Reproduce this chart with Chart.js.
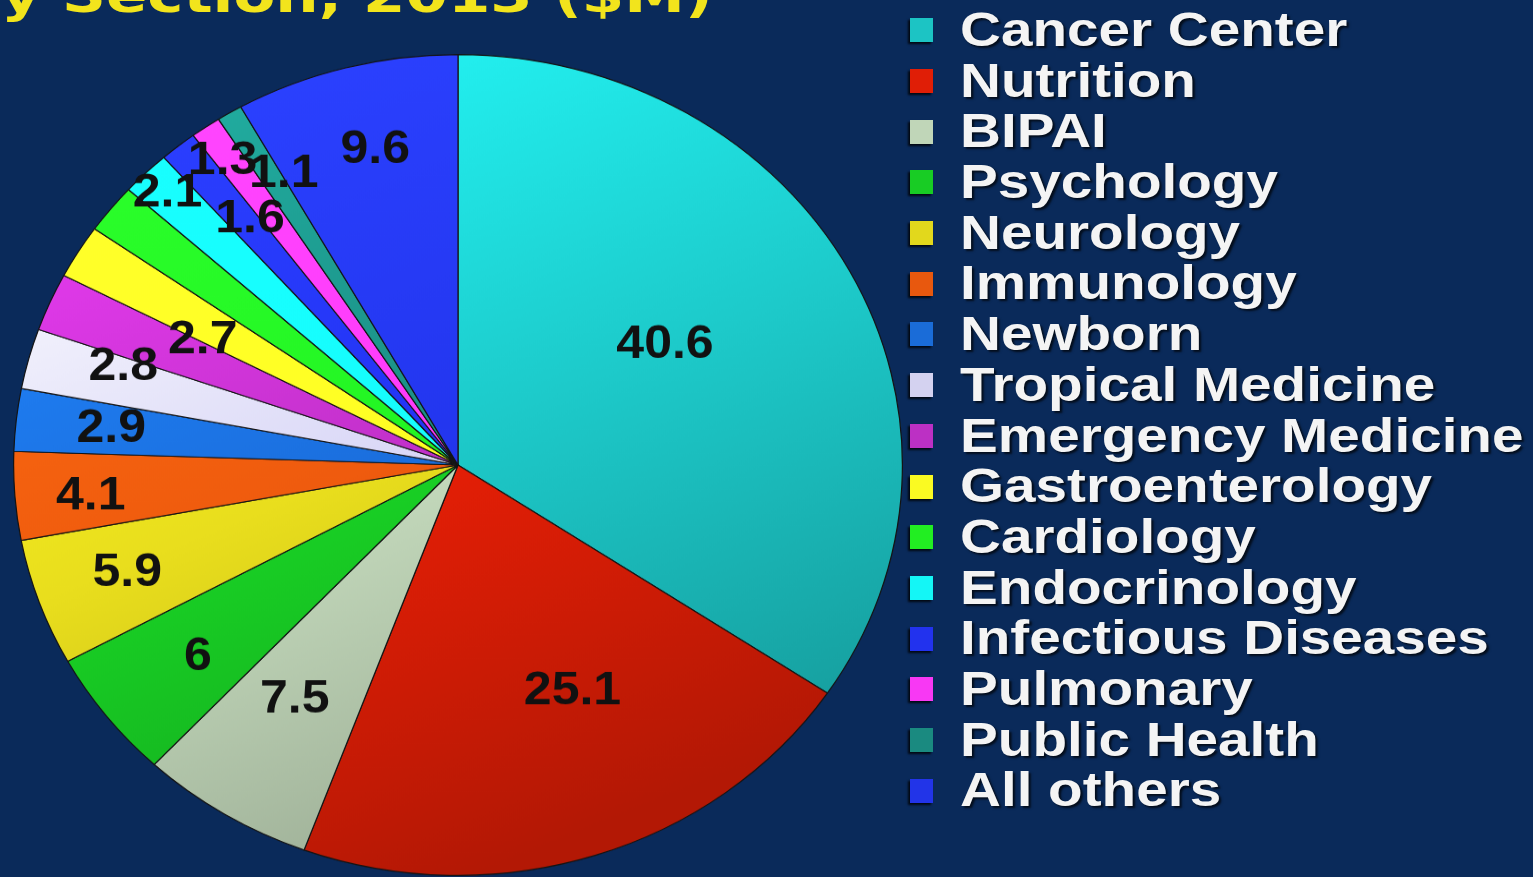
<!DOCTYPE html>
<html>
<head>
    <meta charset="utf-8">
    <script src="https://cdn.jsdelivr.net/npm/chart.js@4.4.0/dist/chart.umd.min.js"></script>
    <style>
        html, body {
            margin: 0;
            padding: 0;
            width: 1533px;
            height: 877px;
            overflow: hidden;
            background: #0a2a5a;
        }

        #title {
            position: absolute;
            right: 820px;
            top: -29px;
            font: bold 48px "DejaVu Sans", sans-serif;
            line-height: 48px;
            color: #f2e41c;
            white-space: nowrap;
            transform: scaleX(1.27);
            transform-origin: right top;
        }

        /* the slide is stretched a little sideways, so the pie is an ellipse */
        #pie-wrap {
            position: absolute;
            left: 13px;
            top: 54px;
            width: 890px;
            height: 890px;
            transform: scaleY(0.9236);
            transform-origin: 0 0;
        }

        #legend {
            position: absolute;
            left: 910px;
            top: 5px;
        }

        .row {
            height: 50.7px;
            display: flex;
            align-items: center;
        }

        .swatch {
            width: 23px;
            height: 24px;
            margin-right: 27px;
            box-shadow: -2px 2px 2px rgba(0, 0, 0, 0.8);
        }

        .name {
            font: bold 48px "Liberation Sans", Arial, sans-serif;
            line-height: 50.7px;
            color: #f4f4f4;
            white-space: nowrap;
            text-shadow: 2px 2px 2px rgba(0, 0, 0, 0.7);
            transform: scaleX(1.18);
            transform-origin: left center;
        }
    </style>
</head>

<body>
    <div id="title">by Section, 2013 ($M)</div>
    <div id="pie-wrap">
        <canvas id="pieChart"></canvas>
    </div>
    <div id="legend"></div>

    <script>
        const categories = ["Cancer Center", "Nutrition", "BIPAI", "Psychology", "Neurology", "Immunology",
            "Newborn", "Tropical Medicine", "Emergency Medicine", "Gastroenterology", "Cardiology",
            "Endocrinology", "Infectious Diseases", "Pulmonary", "Public Health", "All others"];

        // $M per section (Gastroenterology and Cardiology have no label in the slide)
        const values = [40.6, 25.1, 7.5, 6, 5.9, 4.1, 2.9, 2.8, 2.7, 2.5, 2.3, 2.1, 1.6, 1.3, 1.1, 9.6];

        const sliceColors = ['#1cc4c4', '#e01e06', '#c0d6b8', '#18cc24', '#e2d81c', '#e8580e',
            '#1a6cd8', '#d4d2f0', '#bc30c4', '#fafa22', '#22ee22', '#14f6f6',
            '#2232ee', '#f838f4', '#1a8a80', '#2234e8'];

        // where each value label sits: [fraction of radius, degrees turned from the slice middle]
        // null = label not shown in the slide
        const labelPlace = [[0.55, -4], [0.61, -7], [0.68, 1], [0.75, -1], [0.79, 0], [0.83, -1],
            [0.785, 0], [0.79, 2.5], [0.65, 4.5], null, null,
            [0.93, 0], [0.76, 1], [0.91, -1], [0.81, 2], [0.79, 1]];

        // legend
        const legend = document.getElementById('legend');
        categories.forEach((name, i) => {
            const row = document.createElement('div');
            row.className = 'row';
            row.innerHTML = `<div class="swatch" style="background:${sliceColors[i]}"></div><span class="name">${name}</span>`;
            legend.appendChild(row);
        });

        // brighten / darken a hex colour by a factor
        function shade(hex, f) {
            const n = parseInt(hex.slice(1), 16);
            const c = [(n >> 16) & 255, (n >> 8) & 255, n & 255].map(v => Math.min(255, Math.round(v * f)));
            return `rgb(${c[0]},${c[1]},${c[2]})`;
        }

        // slide lighting: slices are lighter at the top, darker towards the bottom
        const gradCache = {};
        function sliceFill(context) {
            const i = context.dataIndex;
            const area = context.chart.chartArea;
            if (!area) return sliceColors[i];
            const key = i + ':' + area.width;
            if (!gradCache[key]) {
                const cx = (area.left + area.right) / 2;
                const g = context.chart.ctx.createLinearGradient(cx - area.width * 0.2, area.top, cx + area.width * 0.2, area.bottom);
                g.addColorStop(0, shade(sliceColors[i], 1.25));
                g.addColorStop(0.5, shade(sliceColors[i], 1.03));
                g.addColorStop(1, shade(sliceColors[i], 0.8));
                gradCache[key] = g;
            }
            return gradCache[key];
        }

        const valueLabels = {
            id: 'valueLabels',
            afterDatasetsDraw(chart) {
                const ctx = chart.ctx;
                const arcs = chart.getDatasetMeta(0).data;
                ctx.save();
                ctx.font = 'bold 50px "Liberation Sans", Arial, sans-serif';
                ctx.fillStyle = '#111';
                ctx.textAlign = 'center';
                ctx.textBaseline = 'middle';
                arcs.forEach((arc, i) => {
                    const place = labelPlace[i];
                    if (!place) return;
                    const p = arc.getProps(['x', 'y', 'startAngle', 'endAngle', 'outerRadius'], true);
                    const mid = (p.startAngle + p.endAngle) / 2 + place[1] * Math.PI / 180;
                    const r = p.outerRadius * place[0];
                    ctx.fillText(String(values[i]), p.x + Math.cos(mid) * r, p.y + Math.sin(mid) * r);
                });
                ctx.restore();
            }
        };

        const pieChart = new Chart(document.getElementById('pieChart'), {
            type: 'pie',
            data: {
                labels: categories,
                datasets: [{
                    data: values,
                    backgroundColor: sliceFill,
                    borderColor: '#141414',
                    borderWidth: 1.2
                }]
            },
            options: {
                responsive: true,
                maintainAspectRatio: false,
                animation: false,
                layout: { padding: 0 },
                plugins: {
                    legend: { display: false },
                    tooltip: { enabled: false }
                }
            },
            plugins: [valueLabels]
        });
    </script>
</body>
</html>
